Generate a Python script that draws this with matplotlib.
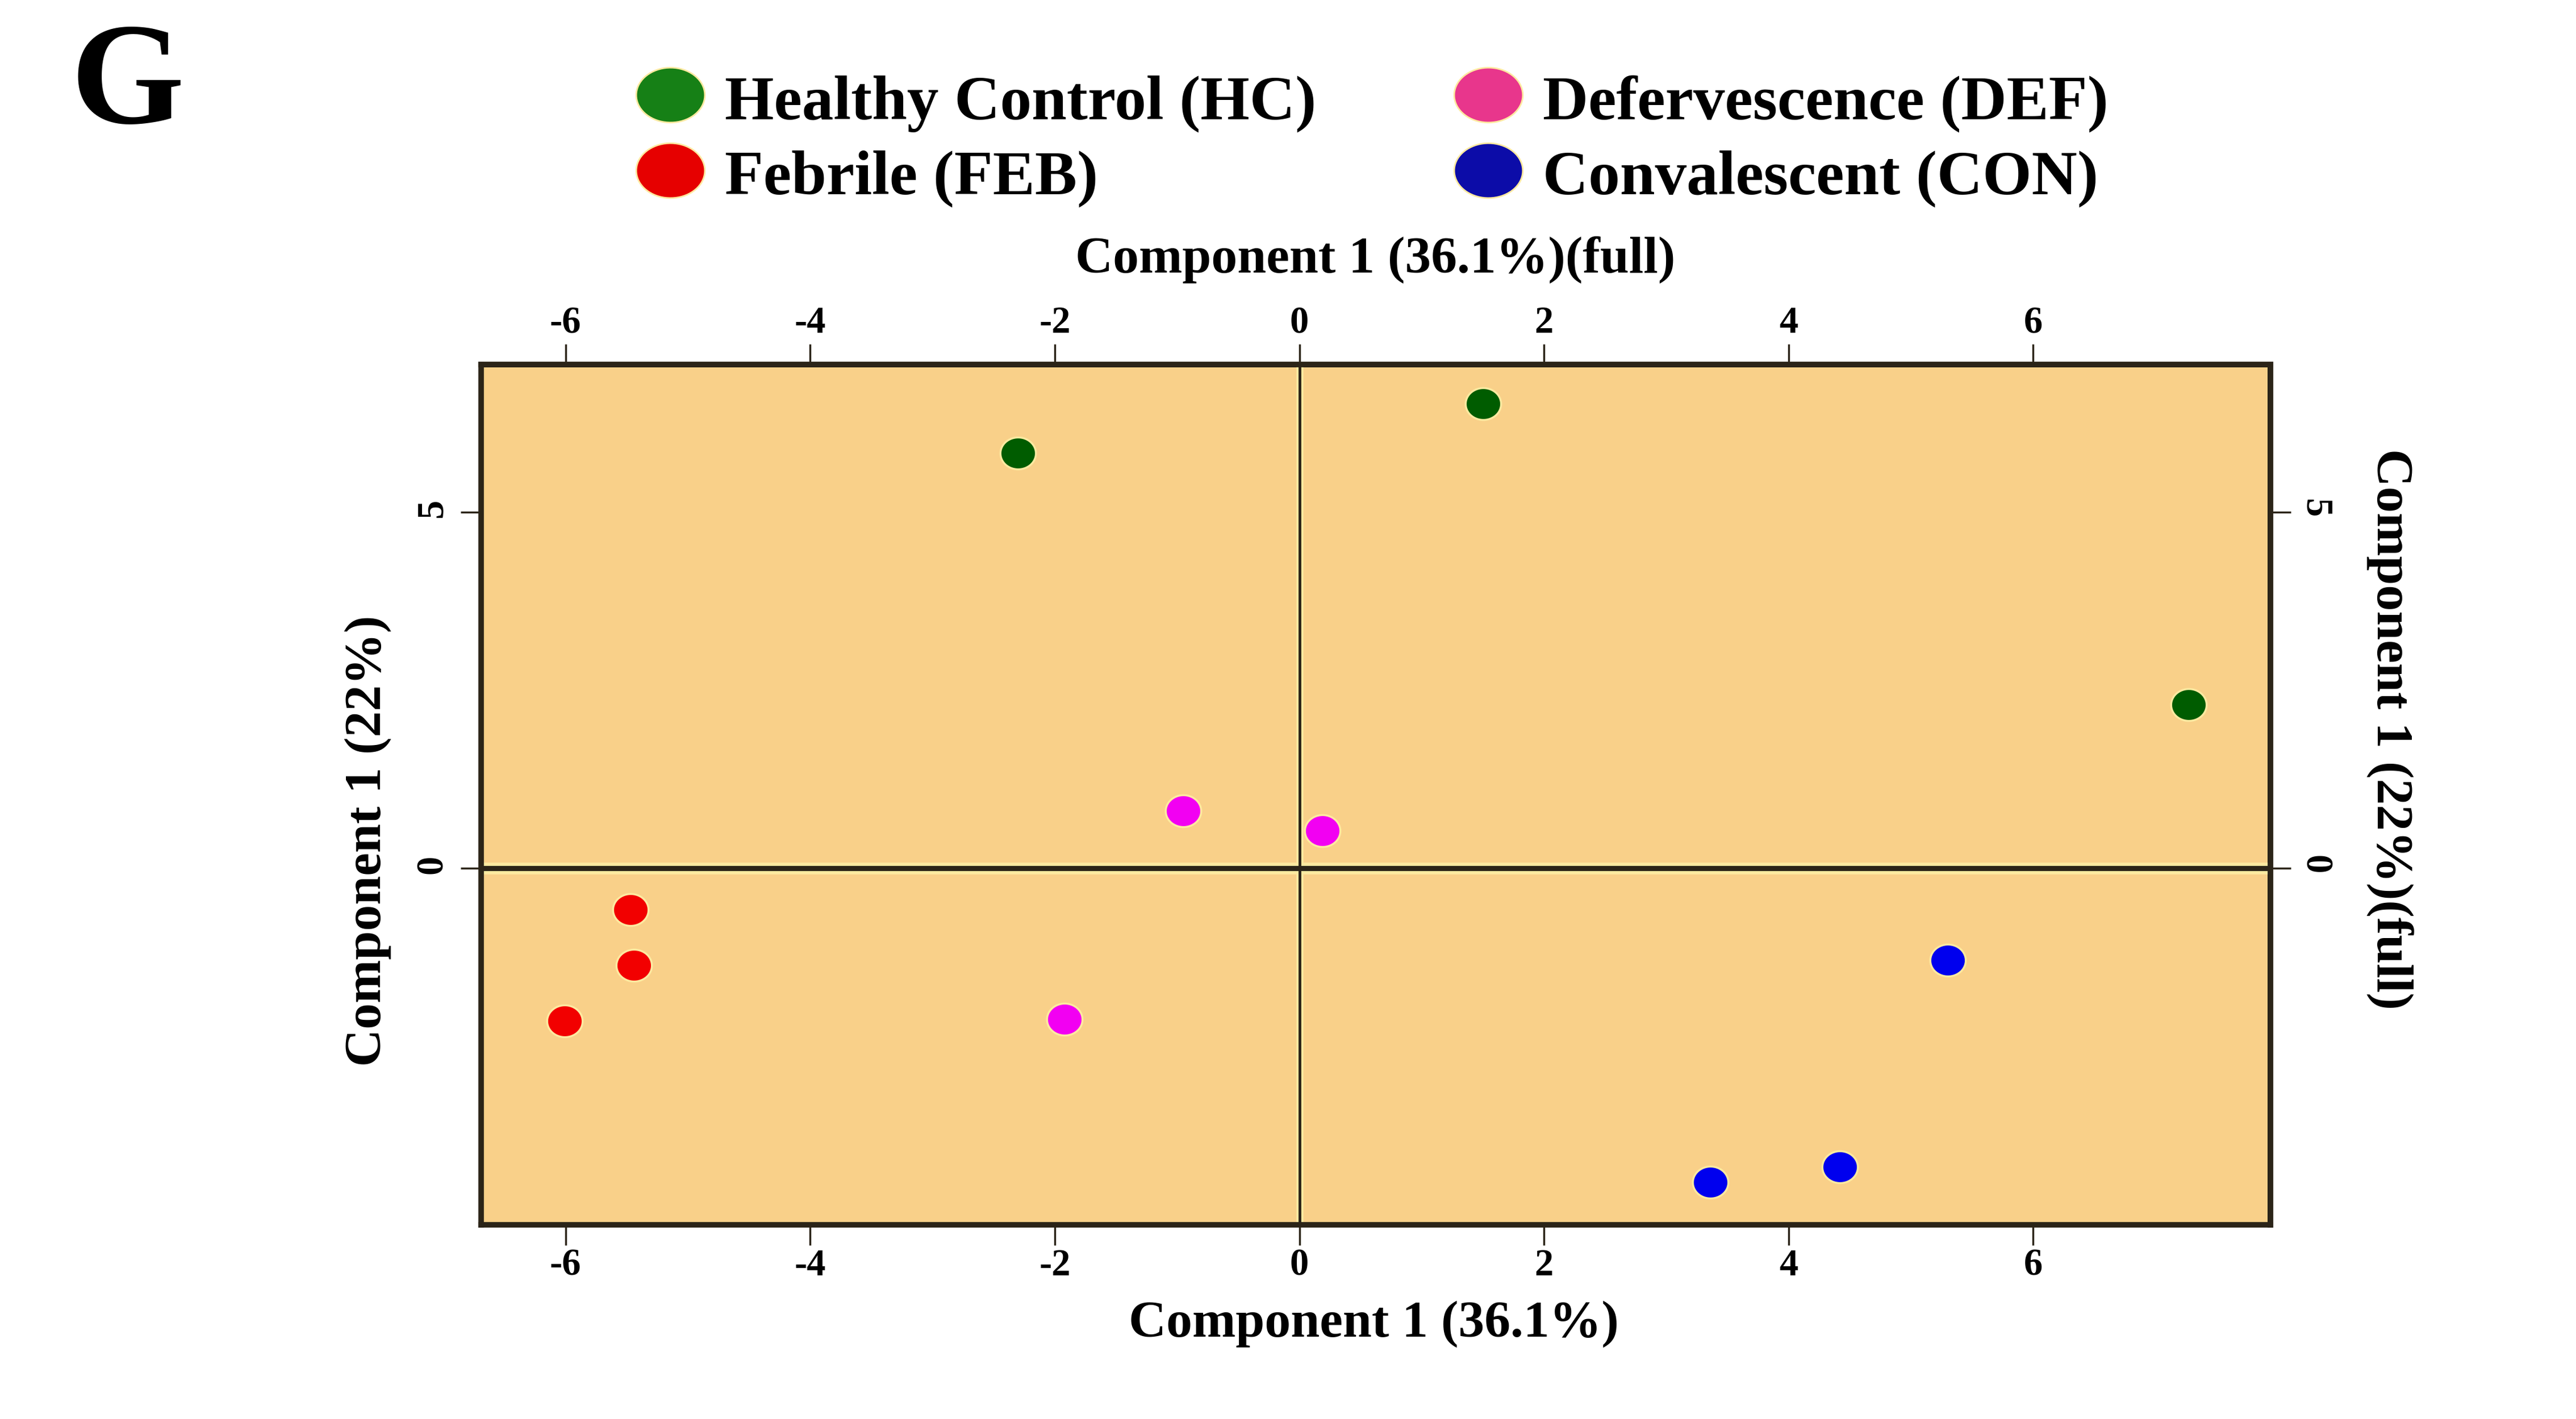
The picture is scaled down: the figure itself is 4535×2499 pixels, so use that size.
import numpy as np
import matplotlib
matplotlib.use("Agg")
import matplotlib.pyplot as plt
from matplotlib.path import Path
from matplotlib.lines import Line2D

# ---- data -------------------------------------------------------------
groups = ["Healthy Control (HC)", "Febrile (FEB)",
          "Defervescence (DEF)", "Convalescent (CON)"]
hc_x = [1.50, -2.30, 7.27]
hc_y = [6.52, 5.83, 2.30]
feb_x = [-5.47, -5.44, -6.01]
feb_y = [-0.58, -1.36, -2.14]
def_x = [-0.95, 0.19, -1.92]
def_y = [0.81, 0.53, -2.12]
con_x = [5.30, 4.42, 3.36]
con_y = [-1.29, -4.19, -4.40]

point_colors = ["#005c00", "#f20000", "#f200f2", "#0000ee"]
legend_colors = ["#168016", "#e60000", "#e8368c", "#0c0ca8"]

x_ticks = [-6, -4, -2, 0, 2, 4, 6]
y_ticks = [0, 5]
x_label = "Component 1 (36.1%)"
x_label_top = "Component 1 (36.1%)(full)"
y_label = "Component 1 (22%)"
y_label_right = "Component 1 (22%)(full)"
panel_letter = "G"

# ---- style ------------------------------------------------------------
plt.rcParams["font.family"] = ["Liberation Serif", "DejaVu Serif"]
plt.rcParams["font.weight"] = "bold"
plt.rcParams["axes.unicode_minus"] = False

ink = "#2b2418"
panel_bg = "#f9d089"
glow = "#fde9a0"


def ellipse_marker(ratio):
    t = np.linspace(0, 2 * np.pi, 72)
    verts = np.column_stack([np.cos(t), ratio * np.sin(t)])
    return Path(verts, closed=True)


fig = plt.figure(figsize=(45.35, 24.99), dpi=100)
ax = fig.add_axes([0.1868, 0.1369, 0.6946, 0.6062])
ax.set_facecolor(panel_bg)
ax.set_xlim(-6.69, 7.94)
ax.set_ylim(-5.0, 7.07)

# origin cross-hair with a soft light rim
ax.axhline(0, color=glow, lw=15, zorder=1)
ax.axvline(0, color=glow, lw=9, zorder=1)
ax.axhline(0, color=ink, lw=6.5, zorder=2)
ax.axvline(0, color=ink, lw=3.5, zorder=2)

series = [(hc_x, hc_y), (feb_x, feb_y), (def_x, def_y), (con_x, con_y)]
dot = ellipse_marker(0.9)
for (xs, ys), c in zip(series, point_colors):
    ax.plot(xs, ys, ls="", marker=dot, ms=45, mfc=c, mec=glow, mew=2.5,
            zorder=3)

for s in ax.spines.values():
    s.set_linewidth(7)
    s.set_color(ink)

ax.set_xticks(x_ticks)
ax.set_yticks(y_ticks)
ax.tick_params(direction="out", length=26, width=2.5, color=ink,
               labelsize=48, pad=4)
ax.tick_params(axis="y", labelrotation=90, pad=14)

sec_x = ax.secondary_xaxis("top")
sec_x.set_xticks(x_ticks)
sec_x.tick_params(direction="out", length=26, width=2.5, color=ink,
                  labelsize=48, pad=4)
sec_x.spines["top"].set_linewidth(7)
sec_x.spines["top"].set_color(ink)

sec_y = ax.secondary_yaxis("right")
sec_y.set_yticks(y_ticks)
sec_y.tick_params(direction="out", length=26, width=2.5, color=ink,
                  labelsize=48, pad=8, labelrotation=-90)
sec_y.spines["right"].set_linewidth(7)
sec_y.spines["right"].set_color(ink)

lab_kw = dict(fontsize=66, fontweight="bold", ha="center", va="center")
ax.set_xlabel(x_label, **lab_kw)
ax.xaxis.set_label_coords(0.5332, 0.0671, transform=fig.transFigure)
ax.set_ylabel(y_label, rotation=90, **lab_kw)
ax.yaxis.set_label_coords(0.1429, 0.4074, transform=fig.transFigure)
sec_x.set_xlabel(x_label_top, **lab_kw)
sec_x.xaxis.set_label_coords(0.5338, 0.8171, transform=fig.transFigure)
sec_y.set_ylabel(y_label_right, rotation=-90, **lab_kw)
sec_y.yaxis.set_label_coords(0.9279, 0.4861, transform=fig.transFigure)

# legend above the panel
key = ellipse_marker(0.8)
handles = [Line2D([], [], ls="", marker=key, ms=87, mfc=c, mec=glow, mew=2)
           for c in legend_colors]
fig.legend(handles, groups, ncol=2, loc="upper left",
           bbox_to_anchor=(0.2465, 0.950), frameon=False,
           prop=dict(size=80, weight="bold"), handlelength=1.12,
           handleheight=0.9, handletextpad=0.3, columnspacing=2.17,
           labelspacing=0.22, borderpad=0, borderaxespad=0)

fig.text(0.0494, 0.938, panel_letter, fontsize=185, fontweight="bold",
         ha="center", va="center")

fig.savefig("out.png", dpi=100, facecolor="white")
